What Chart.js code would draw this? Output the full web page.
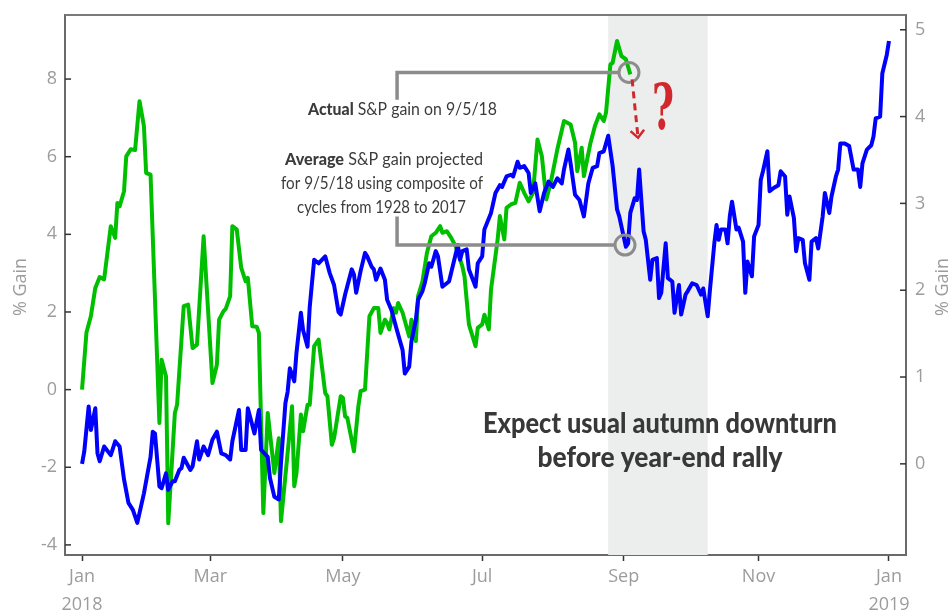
<!DOCTYPE html>
<html>
<head>
<meta charset="utf-8">
<script src="https://cdn.jsdelivr.net/npm/chart.js@4.4.1/dist/chart.umd.min.js"></script>
<style>
  html, body { margin: 0; padding: 0; background: #fff; }
  #wrap { position: relative; width: 951px; height: 610px; }
</style>
</head>
<body>
<div id="wrap"><canvas id="chart"></canvas></div>
<script>
// x values are days since Jan 1 2018

// Actual 2018 S&P gain (left axis, %)
const greenDays = [0,2,4,6,8,10,13,15,16,17,19,20,22,24,26,28,29,31,35,36,38,39,42,43,46,48,50,52,55,59,61,62,64,65,67,68,70,72,74,75,77,79,80,82,84,87,89,90,93,95,96,97,99,100,102,103,105,107,110,111,113,114,117,118,119,120,123,125,126,128,130,132,134,135,137,138,139,141,142,143,145,148,149,151,152,154,156,158,160,162,163,165,167,169,172,173,175,178,179,181,182,184,185,188,189,191,192,194,196,198,200,202,204,206,208,210,212,215,218,221,223,224,226,227,230,232,234,236,237,239,240,242,244,246,248];
const greenGain = [0.00,1.47,1.89,2.62,2.90,2.84,4.21,3.91,4.81,4.72,5.11,6.01,6.19,6.17,7.43,6.79,5.58,5.54,-0.86,0.77,0.34,-3.44,-0.60,-0.39,2.15,2.19,1.07,1.16,3.95,0.17,0.64,1.80,2.02,2.08,2.41,4.21,4.12,3.14,2.79,2.88,1.63,1.62,1.46,-3.18,-0.60,-2.15,-1.25,-3.39,-1.63,-0.43,-2.49,-2.15,-0.64,-1.07,-0.39,-0.39,1.12,1.29,-0.09,-0.17,-1.42,-1.25,-0.17,-0.21,-0.69,-0.73,-1.59,-0.43,-0.04,0.00,1.89,2.10,2.10,1.46,1.80,1.72,1.55,2.10,1.98,2.23,1.98,1.37,1.80,1.25,2.41,2.79,3.52,3.95,4.04,4.21,4.04,4.08,3.91,3.69,3.18,2.92,1.68,1.12,1.59,1.68,1.93,1.55,2.58,3.87,4.47,3.87,4.68,4.77,4.81,5.33,5.07,4.85,5.07,6.44,6.01,4.90,5.33,6.19,6.92,6.83,6.36,5.63,6.23,5.50,6.36,6.79,7.09,6.92,7.13,8.38,8.42,8.98,8.59,8.51,8.12];

// Composite of cycles 1928-2017 (right axis, %)
const blueDays = [0,1,3,4,6,7,8,10,13,15,17,19,21,23,25,28,31,32,33,35,36,38,39,41,42,44,45,46,49,50,52,53,55,57,59,61,63,65,67,68,71,72,74,75,78,80,81,84,85,87,89,90,92,93,94,96,97,99,100,102,103,105,107,110,112,114,116,117,119,122,123,124,126,128,129,131,132,133,135,137,138,140,142,145,146,148,149,151,152,154,155,157,158,160,161,163,166,168,170,171,172,174,175,178,179,181,182,185,187,189,190,192,194,195,197,198,200,202,203,205,207,209,211,213,215,217,218,220,221,223,225,227,229,231,233,234,236,238,240,242,243,246,247,248,250,251,252,254,255,257,258,260,261,262,264,265,267,268,270,271,273,274,276,278,280,281,283,284,286,287,288,289,291,292,293,294,296,297,299,300,301,303,304,306,307,308,310,311,313,315,316,318,319,320,322,323,324,326,327,329,330,332,333,335,336,338,339,341,342,343,345,347,349,351,352,353,355,357,358,359,361,362,364,365];
const blueGain = [0.00,0.14,0.66,0.39,0.64,0.12,0.03,0.20,0.10,0.26,0.20,-0.18,-0.45,-0.53,-0.68,-0.34,0.08,0.37,0.35,-0.26,-0.28,-0.11,-0.30,-0.20,-0.20,-0.07,-0.05,0.07,-0.07,-0.03,0.26,0.05,0.20,0.10,0.28,0.37,0.12,0.10,0.05,0.26,0.62,0.16,0.16,0.64,0.35,0.62,0.16,0.08,-0.16,-0.38,-0.41,0.01,0.70,0.83,1.10,0.95,1.28,1.74,1.54,1.35,1.81,2.35,2.31,2.39,2.20,2.06,1.75,1.72,1.95,2.24,2.18,1.97,2.22,2.43,2.39,2.27,2.24,2.12,2.25,2.12,1.89,1.77,1.58,1.31,1.04,1.12,1.41,1.66,1.89,1.99,2.08,2.31,2.27,2.45,2.39,2.04,2.10,2.31,2.52,2.35,2.45,2.47,2.24,2.04,2.31,2.39,2.70,2.89,3.12,3.21,3.19,3.31,3.33,3.31,3.48,3.41,3.43,3.35,3.12,3.23,2.91,3.12,3.25,3.19,3.29,3.23,3.39,3.62,3.46,3.10,3.04,2.85,3.23,3.41,3.43,3.58,3.60,3.78,3.43,2.93,2.85,2.50,2.54,2.89,3.06,3.04,3.39,2.68,2.58,2.12,2.35,2.37,1.91,1.97,2.54,2.14,2.10,1.74,2.06,1.72,1.95,1.99,2.08,2.06,1.95,2.02,1.70,2.00,2.54,2.75,2.58,2.70,2.70,2.54,2.85,3.02,2.70,2.72,2.56,1.97,2.33,2.16,2.62,2.75,3.27,3.37,3.60,3.14,3.18,3.21,3.37,3.31,2.87,3.08,2.83,2.45,2.60,2.58,2.31,2.12,2.56,2.60,2.48,2.85,3.12,2.89,3.08,3.31,3.39,3.69,3.69,3.66,3.39,3.39,3.19,3.46,3.62,3.67,3.77,3.98,4.00,4.50,4.71,4.87];

// Axes
const leftTicks = [-4, -2, 0, 2, 4, 6, 8];
const rightTicks = [0, 1, 2, 3, 4, 5];
const monthDays = [0, 58, 118, 181, 245, 306, 365];
const monthLabels = [['Jan', '2018'], 'Mar', 'May', 'Jul', 'Sep', 'Nov', ['Jan', '2019']];

// Shaded autumn window (days)
const shadeStart = 238;
const shadeEnd = 283;

// Callouts, in data units
const actualMark = [247.4, 8.17];    // left axis
const averageMark = [245.6, 2.52];   // right axis
const calloutDay = 142.5;
const actualStemEnd = 7.47;          // left axis
const averageStemEnd = 2.85;         // right axis
const arrowFrom = [248.8, 7.99];     // left axis
const arrowTo = [251.5, 6.49];

const AXIS_TEXT = '#9c9c9c';
const NOTE_TEXT = '#3c3c3c';
const RED = '#d2282d';

// draw text runs squeezed/stretched to a target width
function fitRuns(ctx, runs, x, baseline, width, align) {
    let natural = 0;
    runs.forEach(r => { ctx.font = r[1]; natural += ctx.measureText(r[0]).width; });
    const k = width / natural;
    const left = align === 'center' ? x - width / 2 : x;
    ctx.save();
    ctx.translate(left, baseline);
    ctx.scale(k, 1);
    let cx = 0;
    runs.forEach(r => {
        ctx.font = r[1];
        ctx.fillText(r[0], cx, 0);
        cx += ctx.measureText(r[0]).width;
    });
    ctx.restore();
}

const shadePlugin = {
    id: 'shade',
    beforeDatasetsDraw(chart) {
        const { ctx, chartArea: a, scales: { x } } = chart;
        const x0 = x.getPixelForValue(shadeStart);
        const x1 = x.getPixelForValue(shadeEnd);
        ctx.save();
        ctx.fillStyle = '#eceeed';
        ctx.fillRect(x0, a.top, x1 - x0, a.bottom - a.top);
        ctx.restore();
    }
};

const framePlugin = {
    id: 'frame',
    afterDraw(chart) {
        const { ctx, chartArea: a, scales: { yL, yR } } = chart;
        ctx.save();
        // top edge of the box
        ctx.strokeStyle = '#7a7a7a';
        ctx.lineWidth = 2;
        ctx.beginPath();
        ctx.moveTo(a.left, a.top);
        ctx.lineTo(a.right, a.top);
        ctx.stroke();
        // y ticks point inward
        ctx.strokeStyle = '#333';
        ctx.lineWidth = 1.5;
        leftTicks.forEach(v => {
            const y = yL.getPixelForValue(v);
            ctx.beginPath(); ctx.moveTo(a.left, y); ctx.lineTo(a.left + 6, y); ctx.stroke();
        });
        rightTicks.forEach(v => {
            const y = yR.getPixelForValue(v);
            ctx.beginPath(); ctx.moveTo(a.right - 6, y); ctx.lineTo(a.right, y); ctx.stroke();
        });
        // axis titles, both reading bottom to top
        ctx.fillStyle = AXIS_TEXT;
        ctx.font = '18px "Open Sans"';
        ctx.textAlign = 'center';
        ctx.textBaseline = 'middle';
        const midY = (a.top + a.bottom) / 2 + 2;
        [[21, midY], [943, midY]].forEach(p => {
            ctx.save();
            ctx.translate(p[0], p[1]);
            ctx.rotate(-Math.PI / 2);
            ctx.fillText('% Gain', 0, 0);
            ctx.restore();
        });
        ctx.restore();
    }
};

const notesPlugin = {
    id: 'notes',
    afterDatasetsDraw(chart) {
        const { ctx, scales: { x, yL, yR } } = chart;
        ctx.save();

        // callout connectors
        const ex = x.getPixelForValue(calloutDay);
        const r = 10;
        const top = { x: x.getPixelForValue(actualMark[0]), y: yL.getPixelForValue(actualMark[1]) };
        const low = { x: x.getPixelForValue(averageMark[0]), y: yR.getPixelForValue(averageMark[1]) };
        ctx.strokeStyle = '#8c8c8c';
        ctx.lineWidth = 3.5;
        ctx.beginPath();
        ctx.moveTo(ex, yL.getPixelForValue(actualStemEnd));
        ctx.lineTo(ex, top.y);
        ctx.lineTo(top.x - r, top.y);
        ctx.moveTo(ex, yR.getPixelForValue(averageStemEnd));
        ctx.lineTo(ex, low.y);
        ctx.lineTo(low.x - r, low.y);
        ctx.stroke();
        ctx.lineWidth = 3;
        ctx.beginPath(); ctx.arc(top.x, top.y, r, 0, Math.PI * 2); ctx.stroke();
        ctx.beginPath(); ctx.arc(low.x, low.y, r, 0, Math.PI * 2); ctx.stroke();

        // red dashed arrow
        const ax0 = x.getPixelForValue(arrowFrom[0]), ay0 = yL.getPixelForValue(arrowFrom[1]);
        const ax1 = x.getPixelForValue(arrowTo[0]), ay1 = yL.getPixelForValue(arrowTo[1]);
        ctx.strokeStyle = RED;
        ctx.lineWidth = 3;
        ctx.setLineDash([7, 5]);
        ctx.beginPath(); ctx.moveTo(ax0, ay0); ctx.lineTo(ax1, ay1); ctx.stroke();
        ctx.setLineDash([]);
        const ang = Math.atan2(ay1 - ay0, ax1 - ax0);
        ctx.lineWidth = 2.5;
        ctx.beginPath();
        ctx.moveTo(ax1 - 10 * Math.cos(ang - 0.75), ay1 - 10 * Math.sin(ang - 0.75));
        ctx.lineTo(ax1, ay1);
        ctx.lineTo(ax1 - 10 * Math.cos(ang + 0.75), ay1 - 10 * Math.sin(ang + 0.75));
        ctx.stroke();

        // question mark
        ctx.fillStyle = RED;
        ctx.textAlign = 'left';
        ctx.textBaseline = 'alphabetic';
        fitRuns(ctx, [['?', 'bold 64px "DejaVu Serif"']], 663, 129, 22, 'center');

        // callout text
        ctx.fillStyle = NOTE_TEXT;
        const bold = '900 17px Lato', reg = '17px Lato';
        fitRuns(ctx, [['Actual', bold], [' S&P gain on 9/5/18', reg]], 308, 115, 189, 'left');
        fitRuns(ctx, [['Average', bold], [' S&P gain projected', reg]], 384, 165, 198, 'center');
        fitRuns(ctx, [['for 9/5/18 using composite of', reg]], 382, 189, 202, 'center');
        fitRuns(ctx, [['cycles from 1928 to 2017', reg]], 381.5, 213, 169, 'center');

        // headline
        ctx.fillStyle = '#383838';
        const big = '900 28px Lato';
        fitRuns(ctx, [['Expect usual autumn downturn', big]], 660, 433, 354, 'center');
        fitRuns(ctx, [['before year-end rally', big]], 660, 467, 245, 'center');

        ctx.restore();
    }
};

// keep the plot box where the picture has it
const noLabelPad = s => { s.paddingTop = 0; s.paddingBottom = 0; };

const ctx = document.getElementById('chart').getContext('2d');

new Chart(ctx, {
    type: 'line',
    data: {
        datasets: [
            {
                label: 'Average',
                data: blueDays.map((d, i) => ({ x: d, y: blueGain[i] })),
                yAxisID: 'yR',
                borderColor: '#0000ff',
                borderWidth: 4,
                borderJoinStyle: 'round',
                pointRadius: 0,
                tension: 0
            },
            {
                label: 'Actual',
                data: greenDays.map((d, i) => ({ x: d, y: greenGain[i] })),
                yAxisID: 'yL',
                borderColor: '#00bf00',
                borderWidth: 4,
                borderJoinStyle: 'round',
                pointRadius: 0,
                tension: 0
            }
        ]
    },
    options: {
        responsive: true,
        maintainAspectRatio: false,
        animation: false,
        layout: { padding: { top: 15, left: 0, right: 0, bottom: 0 } },
        plugins: {
            legend: { display: false },
            tooltip: { enabled: false }
        },
        scales: {
            x: {
                type: 'linear',
                min: -7.7,
                max: 372.7,
                afterBuildTicks: s => { s.ticks = monthDays.map(v => ({ value: v })); },
                afterFit: s => { s.height = 55; s.paddingLeft = 0; s.paddingRight = 0; },
                grid: { drawOnChartArea: false, drawTicks: true, tickLength: 6, tickColor: '#333', tickWidth: 1.5 },
                border: { color: '#6a6a6a', width: 2 },
                ticks: {
                    color: AXIS_TEXT,
                    font: { family: 'Open Sans', size: 18, lineHeight: 1.55 },
                    padding: 2,
                    maxRotation: 0,
                    autoSkip: false,
                    callback: (v, i) => monthLabels[i]
                }
            },
            yL: {
                position: 'left',
                min: -4.26,
                max: 9.65,
                afterBuildTicks: s => { s.ticks = leftTicks.map(v => ({ value: v })); },
                afterFit: s => { s.width = 65; noLabelPad(s); },
                grid: { drawOnChartArea: false, drawTicks: false },
                border: { color: '#6a6a6a', width: 2 },
                ticks: { color: AXIS_TEXT, font: { family: 'Open Sans', size: 18, lineHeight: 1 }, padding: 8 }
            },
            yR: {
                position: 'right',
                min: -1.05,
                max: 5.17,
                afterBuildTicks: s => { s.ticks = rightTicks.map(v => ({ value: v })); },
                afterFit: s => { s.width = 45; noLabelPad(s); },
                grid: { drawOnChartArea: false, drawTicks: false },
                border: { color: '#6a6a6a', width: 2 },
                ticks: { color: AXIS_TEXT, font: { family: 'Open Sans', size: 18, lineHeight: 1 }, padding: 9 }
            }
        }
    },
    plugins: [shadePlugin, framePlugin, notesPlugin]
});
</script>
</body>
</html>
